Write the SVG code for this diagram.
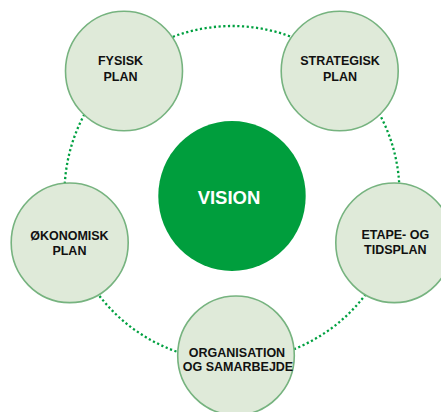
<svg xmlns="http://www.w3.org/2000/svg" width="441" height="412" viewBox="0 0 441 412">
<style>
.node{fill:#dfead9;stroke:#76b37f;stroke-width:1.6}
.lbl{font-family:"Liberation Sans",Arial,sans-serif;font-weight:bold;font-size:12.5px;fill:#111;text-anchor:middle}
.vis{font-family:"Liberation Sans",Arial,sans-serif;font-weight:bold;font-size:18.5px;fill:#fff;text-anchor:middle}
.dots{fill:none;stroke:#00a040;stroke-width:2.3;stroke-dasharray:2.2 2.5}
</style>
<rect width="441" height="412" fill="#fff"/>
<g id="connectors">
<circle class="dots" cx="232" cy="193.5" r="167.5"/>
</g>
<g id="vision">
<ellipse cx="232" cy="196" rx="73.7" ry="75" fill="#009e3d"/>
<text class="vis" x="229" y="204">VISION</text>
</g>
<g id="fysisk">
<ellipse class="node" cx="124" cy="71" rx="58.5" ry="59.8"/>
<text class="lbl" x="120.5" y="65">FYSISK</text>
<text class="lbl" x="120.5" y="81">PLAN</text>
</g>
<g id="strategisk">
<ellipse class="node" cx="339.7" cy="71" rx="58.5" ry="59.8"/>
<text class="lbl" x="340" y="65">STRATEGISK</text>
<text class="lbl" x="340" y="81">PLAN</text>
</g>
<g id="okonomisk">
<ellipse class="node" cx="69.7" cy="242.8" rx="58.5" ry="59.8"/>
<text class="lbl" x="69.4" y="240.3">ØKONOMISK</text>
<text class="lbl" x="69.4" y="255">PLAN</text>
</g>
<g id="etape">
<ellipse class="node" cx="394.3" cy="242.8" rx="58.5" ry="59.8"/>
<text class="lbl" x="395.3" y="239.3">ETAPE- OG</text>
<text class="lbl" x="395.3" y="254.3">TIDSPLAN</text>
</g>
<g id="organisation">
<ellipse class="node" cx="236" cy="355.5" rx="58.3" ry="59.5"/>
<text class="lbl" x="237" y="356.7">ORGANISATION</text>
<text class="lbl" x="238" y="370.7">OG SAMARBEJDE</text>
</g>
</svg>
